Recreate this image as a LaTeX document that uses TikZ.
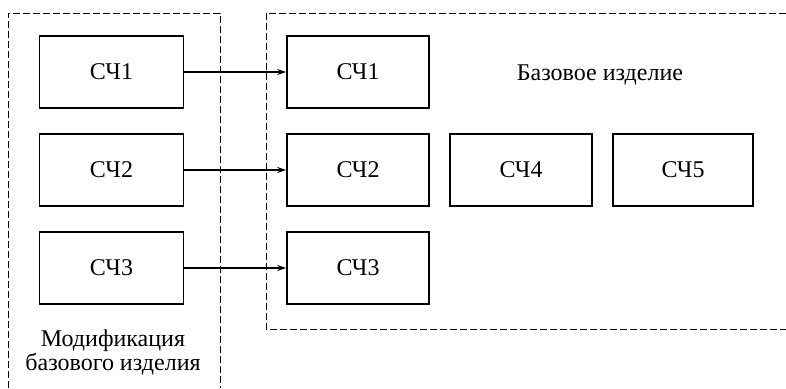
\documentclass[tikz,border=0pt]{standalone}
\usepackage{fontspec}
\setmainfont{Liberation Serif}
\usetikzlibrary{arrows.meta}
\begin{document}
\begin{tikzpicture}[x=1pt,y=-1pt,
  blk/.style={draw,line width=1.6pt,minimum width=144pt,minimum height=72pt,inner sep=0pt,font=\fontsize{24}{27}\selectfont},
  frame/.style={line width=0.9pt,dash pattern=on 7pt off 3pt},
  conn/.style={line width=1.3pt,-{Stealth[length=9pt,width=6pt]}},
  lbl/.style={font=\fontsize{24}{27}\selectfont,align=center}]
\useasboundingbox (0,0) rectangle (786,388);
\draw[frame] (8,388) -- (8,13) -- (220,13) -- (220,388);
\draw[frame] (786,13) -- (266,13) -- (266,329) -- (786,329);
\node[blk] (l1) at (111.5,72) {СЧ1};
\node[blk] (l2) at (111.5,170) {СЧ2};
\node[blk] (l3) at (111.5,268) {СЧ3};
\node[blk,minimum width=142pt] (r1) at (358,72) {СЧ1};
\node[blk,minimum width=142pt] (r2) at (358,170) {СЧ2};
\node[blk,minimum width=142pt] (r3) at (358,268) {СЧ3};
\node[blk,minimum width=142pt] (r4) at (521,170) {СЧ4};
\node[blk,minimum width=140pt] (r5) at (683,170) {СЧ5};
\node[lbl] (base) at (600,75) {Базовое изделие};
\node[lbl,font=\fontsize{24}{24}\selectfont] (mod) at (113,352) {Модификация\\базового изделия};
\draw[conn] (l1.east) -- (r1.west);
\draw[conn] (l2.east) -- (r2.west);
\draw[conn] (l3.east) -- (r3.west);
\end{tikzpicture}
\end{document}
